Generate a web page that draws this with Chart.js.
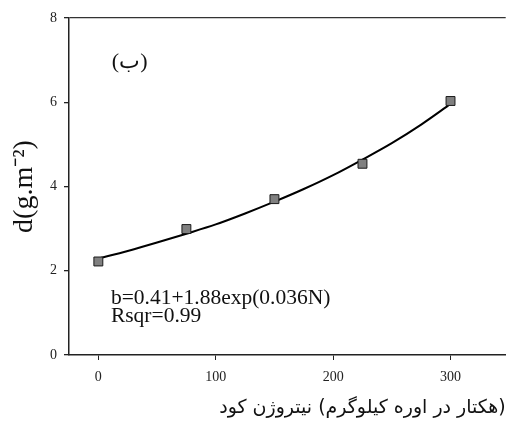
<!DOCTYPE html>
<html>
<head>
<meta charset="utf-8">
<script src="https://cdn.jsdelivr.net/npm/chart.js@4/dist/chart.umd.min.js"></script>
<style>
  html, body { margin: 0; padding: 0; background: #fff; }
  #wrap { width: 513px; height: 431px; position: relative; }
</style>
</head>
<body>
<div id="wrap"><canvas id="c"></canvas></div>
<script>
// ---- data ----
const nitrogenLevels = [0, 75, 150, 225, 300];
const observedD = [2.22, 2.99, 3.70, 4.54, 6.03];
const fitN = [0, 25, 50, 75, 100, 125, 150, 175, 200, 225, 250, 275, 300];
const fitD = [2.29, 2.47, 2.67, 2.88, 3.10, 3.36, 3.64, 3.94, 4.27, 4.64, 5.03, 5.47, 5.96];
const xTicks = [0, 100, 200, 300];
const yTicks = [0, 2, 4, 6, 8];
const xTitle = "کود نیتروژن (کیلوگرم اوره در هکتار)";
const yTitle = "d(g.m⁻²)";
const panelLabel = "(ب)";
const equationLines = ["b=0.41+1.88exp(0.036N)", "Rsqr=0.99"];

const SERIF = "'Liberation Serif', 'Times New Roman', serif";
// the reference lays the Persian words out left-to-right; left-to-right marks keep that order
const xTitleShown = xTitle.split(' ').join('\u200E ');

const textPlugin = {
  id: 'texts',
  afterDatasetsDraw(chart) {
    const ctx = chart.ctx, xs = chart.scales.x, ys = chart.scales.y;
    ctx.save();
    ctx.fillStyle = '#111';
    ctx.textAlign = 'left';
    ctx.font = "22px " + SERIF;
    ctx.textBaseline = 'middle';
    ctx.fillText(panelLabel, xs.getPixelForValue(11.5), ys.getPixelForValue(6.96));
    ctx.font = "21.5px " + SERIF;
    ctx.textBaseline = 'alphabetic';
    ctx.fillText(equationLines[0], xs.getPixelForValue(10.7), ys.getPixelForValue(1.21));
    ctx.fillText(equationLines[1], xs.getPixelForValue(10.7), ys.getPixelForValue(0.79));
    ctx.restore();
  }
};

new Chart(document.getElementById('c'), {
  type: 'scatter',
  data: {
    datasets: [
      {
        label: 'observed',
        data: nitrogenLevels.map((n, i) => ({ x: n, y: observedD[i] })),
        pointStyle: 'rect',
        pointRadius: 6.3,
        pointBackgroundColor: '#808080',
        pointBorderColor: '#1a1a1a',
        pointBorderWidth: 1,
        showLine: false,
        order: 0
      },
      {
        label: 'fit',
        data: fitN.map((n, i) => ({ x: n, y: fitD[i] })),
        showLine: true,
        pointRadius: 0,
        borderColor: '#000',
        borderWidth: 2,
        cubicInterpolationMode: 'monotone',
        order: 1
      }
    ]
  },
  options: {
    responsive: true,
    maintainAspectRatio: false,
    animation: false,
    events: [],
    layout: { padding: { top: 18, left: 0, right: 0, bottom: 0 } },
    plugins: { legend: { display: false }, tooltip: { enabled: false } },
    scales: {
      x: {
        type: 'linear',
        min: -25,
        max: 347,
        afterBuildTicks: s => { s.ticks = xTicks.map(v => ({ value: v })); },
        afterFit: s => { s.height = 76; },
        grid: { display: true, drawOnChartArea: false, drawTicks: true, tickLength: 5, tickColor: '#222', tickWidth: 1 },
        border: { display: true, color: '#222', width: 1.5 },
        ticks: { color: '#222', padding: 9, font: { family: SERIF, size: 14 }, maxRotation: 0 },
        title: {
          display: true,
          text: xTitleShown,
          align: 'end',
          color: '#111',
          font: { family: "'DejaVu Sans', sans-serif", size: 19 },
          padding: { top: 0, bottom: 12 }
        }
      },
      y: {
        min: 0,
        max: 8,
        afterBuildTicks: s => { s.ticks = yTicks.map(v => ({ value: v })); },
        afterFit: s => { s.width = 69; },
        grid: {
          display: true,
          drawOnChartArea: true,
          drawTicks: true,
          tickLength: 5,
          tickColor: '#222',
          color: c => (c.tick && c.tick.value === 8) ? '#333' : 'rgba(0,0,0,0)',
          lineWidth: 1.3
        },
        border: { display: true, color: '#222', width: 1.5 },
        ticks: { color: '#222', padding: 7, font: { family: SERIF, size: 14 } },
        title: {
          display: true,
          text: yTitle,
          color: '#111',
          font: { family: SERIF, size: 28 },
          padding: { top: 8, bottom: 0 }
        }
      }
    }
  },
  plugins: [textPlugin]
});
</script>
</body>
</html>
